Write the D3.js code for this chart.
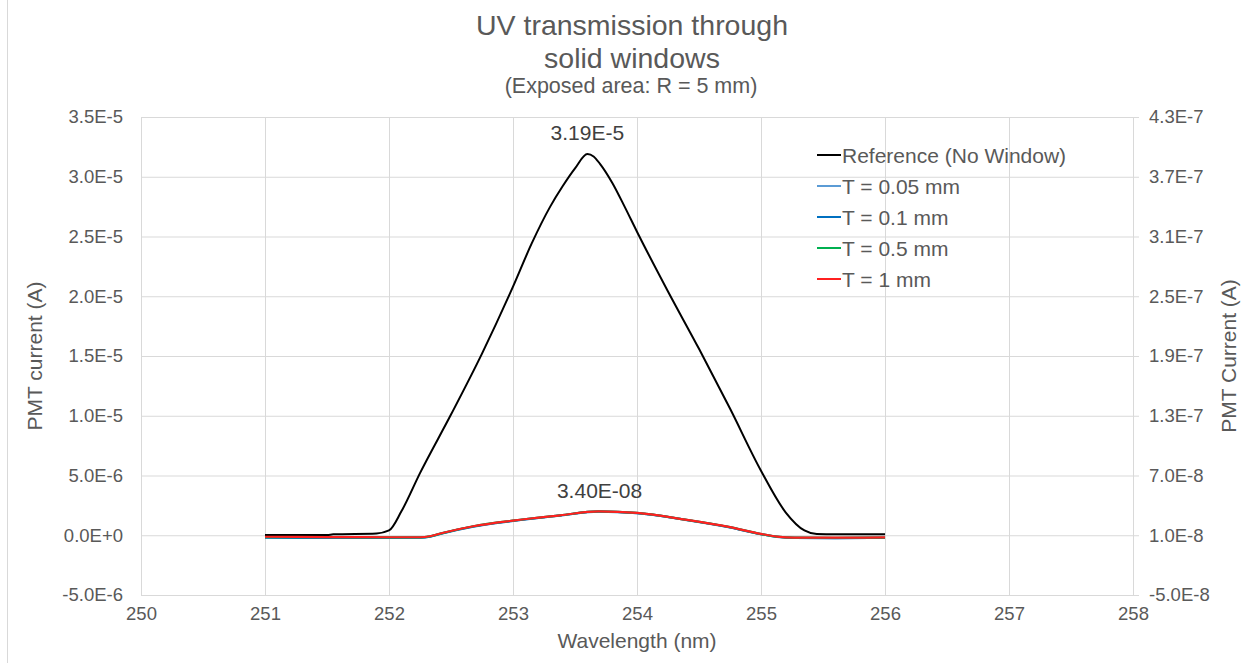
<!DOCTYPE html>
<html>
<head>
<meta charset="utf-8">
<script src="https://cdn.jsdelivr.net/npm/d3@7"></script>
<style>
  body { margin: 0; background: #fff; }
  svg { display: block; font-family: "Liberation Sans", Arial, sans-serif; }
</style>
</head>
<body>
<div id="chart"></div>
<script>
// axis ticks
const xTicks = [250, 251, 252, 253, 254, 255, 256, 257, 258];
const leftTicks = [-5e-6, 0, 5e-6, 1e-5, 1.5e-5, 2e-5, 2.5e-5, 3e-5, 3.5e-5];
const rightTicks = [-5e-8, 1e-8, 7e-8, 1.3e-7, 1.9e-7, 2.5e-7, 3.1e-7, 3.7e-7, 4.3e-7];

// reference (no window), primary axis
const refWavelength = [251, 251.5, 251.55, 251.9, 252.0, 252.1, 252.25, 252.5, 252.75, 253.0, 253.15, 253.3, 253.4, 253.5, 253.6, 253.65, 253.7, 253.8, 253.9, 254.0, 254.25, 254.5, 254.75, 255.0, 255.2, 255.35, 255.45, 255.6, 256];
const refCurrent = [2e-8, 2e-8, 8e-8, 1.5e-7, 4e-7, 2.0e-6, 5.2e-6, 1.01e-5, 1.52e-5, 2.08e-5, 2.44e-5, 2.75e-5, 2.92e-5, 3.07e-5, 3.19e-5, 3.17e-5, 3.11e-5, 2.95e-5, 2.75e-5, 2.54e-5, 2.04e-5, 1.56e-5, 1.06e-5, 5.4e-6, 1.9e-6, 4e-7, 1.0e-7, 8e-8, 8e-8];

// windows, secondary axis
const winWavelength = [251, 251.5, 252.0, 252.25, 252.33, 252.43, 252.68, 253.0, 253.38, 253.69, 254.0, 254.39, 254.74, 255.0, 255.13, 255.27, 255.6, 256];
const t005 = [0.78e-8, 0.76e-8, 0.75e-8, 0.77e-8, 0.87e-8, 1.2e-8, 1.88e-8, 2.45e-8, 2.99e-8, 3.39e-8, 3.23e-8, 2.56e-8, 1.82e-8, 1.11e-8, 0.85e-8, 0.74e-8, 0.72e-8, 0.75e-8];
const t01 = [0.76e-8, 0.74e-8, 0.74e-8, 0.76e-8, 0.86e-8, 1.19e-8, 1.87e-8, 2.44e-8, 2.98e-8, 3.38e-8, 3.22e-8, 2.55e-8, 1.81e-8, 1.1e-8, 0.84e-8, 0.73e-8, 0.71e-8, 0.74e-8];
const t05 = [0.82e-8, 0.8e-8, 0.78e-8, 0.79e-8, 0.89e-8, 1.22e-8, 1.9e-8, 2.47e-8, 3.0e-8, 3.4e-8, 3.24e-8, 2.57e-8, 1.84e-8, 1.12e-8, 0.86e-8, 0.76e-8, 0.75e-8, 0.77e-8];
const t1 = [0.85e-8, 0.82e-8, 0.8e-8, 0.8e-8, 0.9e-8, 1.23e-8, 1.9e-8, 2.47e-8, 3.0e-8, 3.4e-8, 3.24e-8, 2.57e-8, 1.84e-8, 1.13e-8, 0.87e-8, 0.77e-8, 0.76e-8, 0.78e-8];

const width = 1248, height = 663;
const plotLeft = 141, plotRight = 1133, plotTop = 117, plotBottom = 595;
const textColor = '#595959';
const gridColor = '#d9d9d9';
const font = '"Liberation Sans", Arial, sans-serif';

const svg = d3.select('#chart')
    .append('svg')
    .attr('width', width)
    .attr('height', height);

svg.append('rect').attr('width', width).attr('height', height).attr('fill', '#fff');
svg.append('line')
    .attr('x1', 7.5).attr('x2', 7.5).attr('y1', 0).attr('y2', height)
    .attr('stroke', gridColor);

const x = d3.scaleLinear().domain([250, 258]).range([plotLeft, plotRight]);
const yL = d3.scaleLinear().domain([-5e-6, 3.5e-5]).range([plotBottom, plotTop]);
const yR = d3.scaleLinear().domain([-5e-8, 4.3e-7]).range([plotBottom, plotTop]);

const sci = v => v.toExponential(1).toUpperCase();

// gridlines
svg.append('g')
    .attr('transform', `translate(${plotLeft},0)`)
    .call(d3.axisLeft(yL).tickValues(leftTicks).tickSize(-(plotRight - plotLeft)).tickFormat(''))
    .call(g => g.select('.domain').remove())
    .call(g => g.selectAll('line').attr('stroke', gridColor));
svg.append('g')
    .attr('transform', `translate(0,${plotBottom})`)
    .call(d3.axisBottom(x).tickValues(xTicks).tickSize(-(plotBottom - plotTop)).tickFormat(''))
    .call(g => g.select('.domain').remove())
    .call(g => g.selectAll('line').attr('stroke', gridColor));

// left axis labels
svg.append('g')
    .attr('transform', `translate(${plotLeft},0)`)
    .call(d3.axisLeft(yL).tickValues(leftTicks).tickSize(0).tickPadding(18).tickFormat(sci))
    .call(g => g.select('.domain').remove())
    .call(g => g.selectAll('text').attr('fill', textColor).style('font-size', '18.5px').style('font-family', font));

// right axis
svg.append('g')
    .attr('transform', `translate(${plotRight},0)`)
    .call(d3.axisRight(yR).tickValues(rightTicks).tickSize(6).tickPadding(10).tickFormat(sci))
    .call(g => g.select('.domain').attr('stroke', gridColor).attr('d', `M0.5,${plotTop}V${plotBottom}`))
    .call(g => g.selectAll('line').attr('stroke', gridColor))
    .call(g => g.selectAll('text').attr('fill', textColor).style('font-size', '18.5px').style('font-family', font));

// bottom axis labels
svg.append('g')
    .attr('transform', `translate(0,${plotBottom})`)
    .call(d3.axisBottom(x).tickValues(xTicks).tickSize(0).tickPadding(12).tickFormat(d3.format('d')))
    .call(g => g.select('.domain').remove())
    .call(g => g.selectAll('text').attr('fill', textColor).style('font-size', '18.5px').style('font-family', font));

// series
const refLine = d3.line()
    .x((d, i) => x(refWavelength[i]))
    .y(d => yL(d))
    .curve(d3.curveMonotoneX);
const winLine = d3.line()
    .x((d, i) => x(winWavelength[i]))
    .y(d => yR(d))
    .curve(d3.curveMonotoneX);

svg.append('path').datum(refCurrent)
    .attr('d', refLine).attr('fill', 'none').attr('stroke', '#000').attr('stroke-width', 2);

const windows = [
    { name: 'T = 0.05 mm', values: t005, color: '#5b9bd5' },
    { name: 'T = 0.1 mm', values: t01, color: '#0070c0' },
    { name: 'T = 0.5 mm', values: t05, color: '#00b050' },
    { name: 'T = 1 mm', values: t1, color: '#ff2020' }
];
windows.forEach(s => {
    svg.append('path').datum(s.values)
        .attr('d', winLine).attr('fill', 'none').attr('stroke', s.color).attr('stroke-width', 2.2);
});

// data labels
svg.append('text')
    .attr('x', x(253.6)).attr('y', yL(3.19e-5) - 14)
    .attr('text-anchor', 'middle').attr('fill', '#404040').style('font-size', '21px')
    .text('3.19E-5');
svg.append('text')
    .attr('x', x(253.69) + 1).attr('y', yR(3.4e-8) - 13)
    .attr('text-anchor', 'middle').attr('fill', '#404040').style('font-size', '21px')
    .text('3.40E-08');

// legend
const legendItems = [{ name: 'Reference (No Window)', color: '#000' }].concat(windows);
const legend = svg.append('g');
legendItems.forEach((d, i) => {
    const cy = 155 + i * 31;
    legend.append('line')
        .attr('x1', 817).attr('x2', 841).attr('y1', cy).attr('y2', cy)
        .attr('stroke', d.color).attr('stroke-width', 2);
    legend.append('text')
        .attr('x', 842).attr('y', cy).attr('dy', '0.36em')
        .attr('fill', textColor).style('font-size', '21px')
        .text(d.name);
});

// titles
svg.append('text').attr('x', 632).attr('y', 35).attr('text-anchor', 'middle')
    .attr('fill', textColor).style('font-size', '28.5px').text('UV transmission through');
svg.append('text').attr('x', 632).attr('y', 68).attr('text-anchor', 'middle')
    .attr('fill', textColor).style('font-size', '28.5px').text('solid windows');
svg.append('text').attr('x', 631).attr('y', 93).attr('text-anchor', 'middle')
    .attr('fill', textColor).style('font-size', '21.5px').text('(Exposed area: R = 5 mm)');

svg.append('text').attr('x', 637).attr('y', 648).attr('text-anchor', 'middle')
    .attr('fill', textColor).style('font-size', '21px').text('Wavelength (nm)');
svg.append('text')
    .attr('transform', 'translate(42,356) rotate(-90)').attr('text-anchor', 'middle')
    .attr('fill', textColor).style('font-size', '21px').text('PMT current (A)');
svg.append('text')
    .attr('transform', 'translate(1236,356) rotate(-90)').attr('text-anchor', 'middle')
    .attr('fill', textColor).style('font-size', '21px').text('PMT Current (A)');
</script>
</body>
</html>
